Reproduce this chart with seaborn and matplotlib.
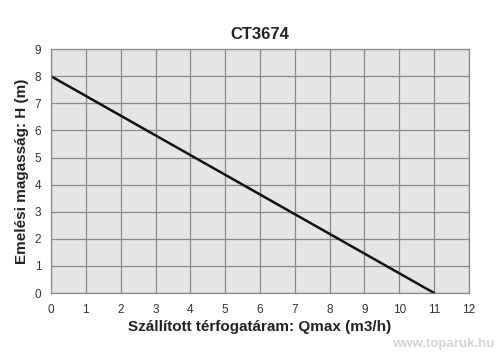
import seaborn as sns
import matplotlib.pyplot as plt
import pandas as pd

# adatok a jelleggorbehez
q_values = [0, 11]
h_values = [8, 0]
x_ticks = list(range(0, 13))
y_ticks = list(range(0, 10))

df = pd.DataFrame({"Q": q_values, "H": h_values})

sns.set_style("white")
plt.rcParams['font.family'] = ['Liberation Sans', 'DejaVu Sans']

fig = plt.figure(figsize=(5, 3.64), dpi=100)
ax = fig.add_axes([0.102, 0.195, 0.836, 0.67])
ax.set_facecolor("#e5e5e7")

sns.lineplot(data=df, x="Q", y="H", color="#111111", linewidth=1.8, ax=ax)

ax.set_xlim(0, 12)
ax.set_ylim(0, 9)
ax.set_xticks(x_ticks)
ax.set_yticks(y_ticks)
ax.grid(True, color="#8a8a8a", linewidth=0.9)
ax.set_axisbelow(True)
for s in ax.spines.values():
    s.set_color("#8a8a8a")
    s.set_linewidth(0.9)
ax.tick_params(axis="both", labelsize=8.5, colors="#333333", length=3, width=0.8, pad=4)
ax.tick_params(axis="x", length=0, pad=8)

ax.set_title("CT3674", fontsize=12, fontweight="bold", color="#222222", pad=7)
ax.set_xlabel("Szállított térfogatáram: Qmax (m3/h)", fontsize=11, fontweight="bold",
              color="#222222", labelpad=3)
ax.set_ylabel("Emelési magasság: H (m)", fontsize=11, fontweight="bold",
              color="#222222", labelpad=4)

fig.text(0.988, 0.055, "www.toparuk.hu", ha="right", va="center", fontsize=9.5,
         fontweight="bold", color="#d4d4d4")

plt.savefig("out.png", dpi=100)
